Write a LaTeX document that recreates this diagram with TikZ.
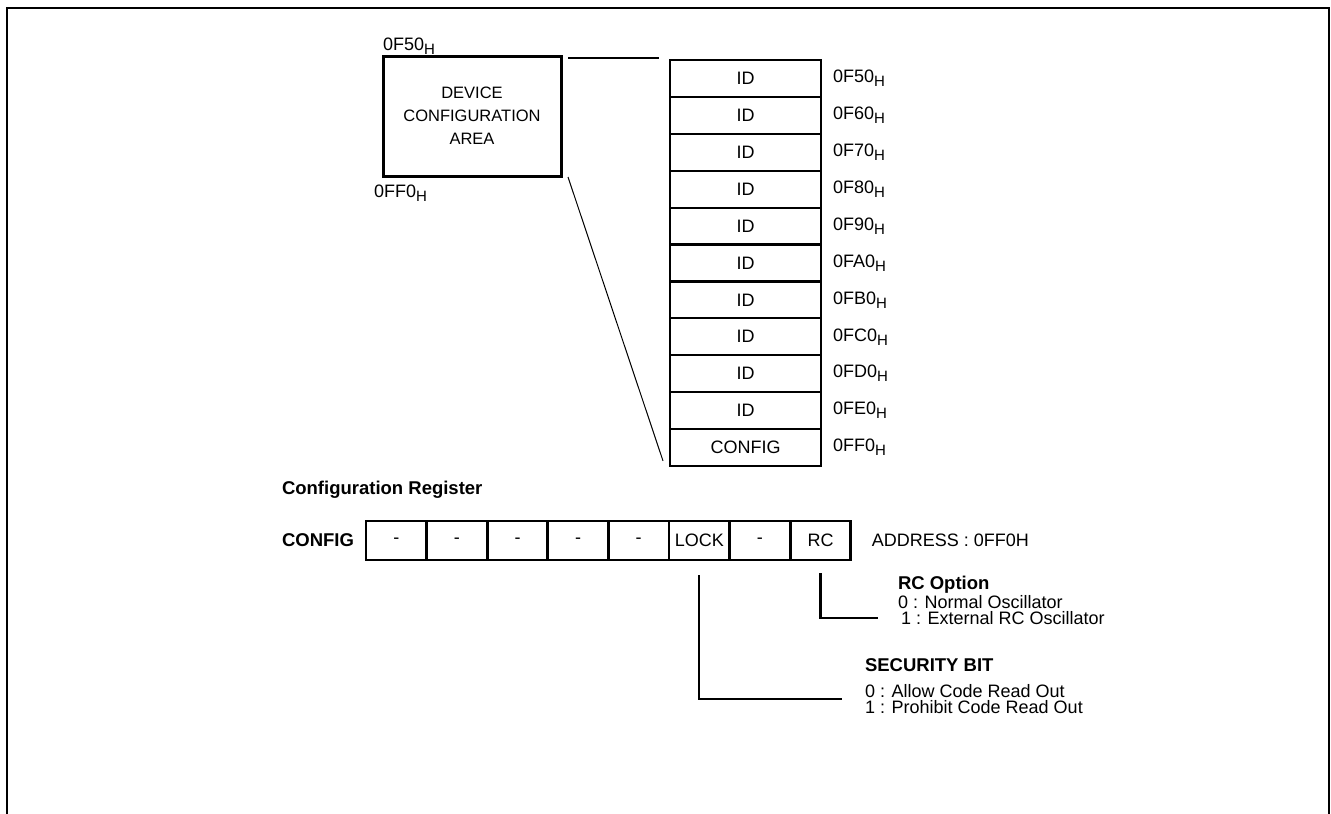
\documentclass[tikz,border=0pt]{standalone}
\usepackage{fontspec}
\setmainfont{Liberation Sans}
\usetikzlibrary{positioning}
\newcommand{\hsub}{\raisebox{-4pt}{\fontsize{15}{15}\selectfont H}}

\begin{document}
\begin{tikzpicture}[
    x=1pt, y=-1pt,
    txt/.style={font=\fontsize{18}{20}\selectfont, inner sep=0pt, outer sep=0pt},
    hdr/.style={font=\fontsize{18.5}{20}\selectfont\bfseries, inner sep=0pt, outer sep=0pt},
    area/.style={draw, line width=3pt, minimum width=178pt, minimum height=120pt,
                 outer sep=0pt, align=center, font=\fontsize{16.5}{23}\selectfont},
    row/.style={draw, line width=2.2pt, minimum width=151pt, minimum height=36.9pt,
                inner sep=0pt, outer sep=0pt, font=\fontsize{18}{20}\selectfont},
    cell/.style={draw, line width=2.8pt, minimum width=60.6pt, minimum height=39pt,
                 inner sep=0pt, outer sep=0pt, font=\fontsize{18}{20}\selectfont},
    wire/.style={line width=2.2pt},
    thin/.style={line width=1pt}
]
\useasboundingbox (0,0) rectangle (1331,814);

% Frame (open at the bottom)
\draw[line width=2.2pt] (7,814) -- (7,8) -- (1329,8) -- (1329,814);

% Device configuration area
\node[area] (dev) at (472,116) {DEVICE\\CONFIGURATION\\AREA};
\node[txt, anchor=south west] (devtop) at ([yshift=2pt]dev.north west) {0F50\hsub};
\node[txt, anchor=west] (devbot) at (374,193) {0FF0\hsub};

% Memory map
\node[row] (r1) at (745.5,78.45) {ID};
\node[row, below=0pt of r1] (r2) {ID};
\node[row, below=0pt of r2] (r3) {ID};
\node[row, below=0pt of r3] (r4) {ID};
\node[row, below=0pt of r4] (r5) {ID};
\node[row, below=0pt of r5] (r6) {ID};
\node[row, below=0pt of r6] (r7) {ID};
\node[row, below=0pt of r7] (r8) {ID};
\node[row, below=0pt of r8] (r9) {ID};
\node[row, below=0pt of r9] (r10) {ID};
\node[row, below=0pt of r10] (r11) {CONFIG};

\node[txt, right=12pt of r1] (a1) {0F50\hsub};
\node[txt, right=12pt of r2] (a2) {0F60\hsub};
\node[txt, right=12pt of r3] (a3) {0F70\hsub};
\node[txt, right=12pt of r4] (a4) {0F80\hsub};
\node[txt, right=12pt of r5] (a5) {0F90\hsub};
\node[txt, right=12pt of r6] (a6) {0FA0\hsub};
\node[txt, right=12pt of r7] (a7) {0FB0\hsub};
\node[txt, right=12pt of r8] (a8) {0FC0\hsub};
\node[txt, right=12pt of r9] (a9) {0FD0\hsub};
\node[txt, right=12pt of r10] (a10) {0FE0\hsub};
\node[txt, right=12pt of r11] (a11) {0FF0\hsub};

% Zoom lines
\draw[wire] ([xshift=7pt,yshift=-2pt]dev.north east) -- ([xshift=-11pt,yshift=2pt]r1.north west);
\draw[thin] ([xshift=7pt,yshift=-1pt]dev.south east) -- ([xshift=-7pt,yshift=5pt]r11.south west);

% Configuration register
\node[hdr, anchor=west] (title) at (282,490) {Configuration Register};
\node[cell] (b7) at (396.3,540.5) {-};
\node[cell, right=0pt of b7] (b6) {-};
\node[cell, right=0pt of b6] (b5) {-};
\node[cell, right=0pt of b5] (b4) {-};
\node[cell, right=0pt of b4] (b3) {-};
\node[cell, right=0pt of b3] (b2) {LOCK};
\node[cell, right=0pt of b2] (b1) {-};
\node[cell, right=0pt of b1] (b0) {RC};
\node[hdr, left=12pt of b7] (regname) {CONFIG};
\node[txt, right=21pt of b0] (addr) {ADDRESS : 0FF0H};

% Bit descriptions
\node[hdr, anchor=west] (rcopt) at (898,585) {RC Option};
\node[txt, anchor=west] (rc0) at (898,602) {0 : Normal Oscillator};
\node[txt, anchor=west] (rc1) at (901,618) {1 : External RC Oscillator};
\node[hdr, anchor=west] (sec) at (865,665) {SECURITY BIT};
\node[txt, anchor=west] (sec0) at (865,691) {0 : Allow Code Read Out};
\node[txt, anchor=west] (sec1) at (865,707) {1 : Prohibit Code Read Out};

\coordinate (rcend) at (878,618);
\coordinate (lockend) at (842,699);
\draw[wire] ([yshift=-13pt]b0.south) |- (rcend);
\draw[wire] ([yshift=-15pt]b2.south) |- (lockend);

\end{tikzpicture}
\end{document}
